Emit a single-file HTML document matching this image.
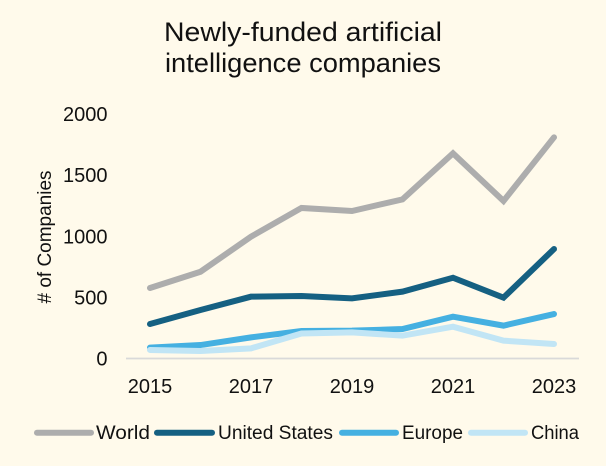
<!DOCTYPE html>
<html>
<head>
<meta charset="utf-8">
<style>
html,body{margin:0;padding:0;background:#FFFAEB;}
svg{display:block;}
text{font-family:"Liberation Sans",sans-serif;fill:#111;}
</style>
</head>
<body>
<svg id="chart" width="606" height="466" viewBox="0 0 606 466" xmlns="http://www.w3.org/2000/svg">
<rect x="0" y="0" width="606" height="466" fill="#FFFAEB"/>
<text x="303" y="41" font-size="27" text-anchor="middle" textLength="278" lengthAdjust="spacingAndGlyphs">Newly-funded artificial</text>
<text x="303" y="72" font-size="27" text-anchor="middle" textLength="276" lengthAdjust="spacingAndGlyphs">intelligence companies</text>
<text transform="translate(51,237) rotate(-90)" font-size="19" text-anchor="middle" textLength="133" lengthAdjust="spacingAndGlyphs"># of Companies</text>
<g id="y-ticks"></g>
<g id="x-ticks"></g>
<line x1="126" y1="358.5" x2="579" y2="358.5" stroke="#D9D9D9" stroke-width="1.7"/>
<g id="series"></g>
<g id="legend"></g>
</svg>
<script>
const years = [2015, 2016, 2017, 2018, 2019, 2020, 2021, 2022, 2023];
const yTickValues = [0, 500, 1000, 1500, 2000];
const xTickLabels = [2015, 2017, 2019, 2021, 2023];
const seriesNames = ["World", "United States", "Europe", "China"];
const world = [577, 710, 997, 1232, 1207, 1302, 1679, 1289, 1810];
const unitedStates = [282, 397, 506, 511, 492, 547, 661, 498, 896];
const europe = [89, 110, 173, 225, 228, 241, 342, 269, 364];
const china = [70, 61, 83, 205, 214, 187, 260, 146, 119];

const NS = "http://www.w3.org/2000/svg";
const colors = ["#ADADAD", "#156082", "#45B0E1", "#C1E5F5"];
const slugs = ["world", "united-states", "europe", "china"];
const seriesValues = [world, unitedStates, europe, china];
const xScale = function (year) { return 150 + (year - 2015) * 50.5; };
const yScale = function (value) { return 358.5 - value * 0.1222; };

const yGroup = document.getElementById("y-ticks");
yTickValues.forEach(function (value) {
  const t = document.createElementNS(NS, "text");
  
  
  t.setAttribute("x", 107.5);
  t.setAttribute("y", yScale(value) + 7);
  t.setAttribute("font-size", "20");
  t.setAttribute("text-anchor", "end");
  t.textContent = value;
  yGroup.appendChild(t);
});

const xGroup = document.getElementById("x-ticks");
xTickLabels.forEach(function (year) {
  const t = document.createElementNS(NS, "text");
  
  
  t.setAttribute("x", xScale(year));
  t.setAttribute("y", 393);
  t.setAttribute("font-size", "20");
  t.setAttribute("text-anchor", "middle");
  t.textContent = year;
  xGroup.appendChild(t);
});

const seriesGroup = document.getElementById("series");
seriesValues.forEach(function (values, i) {
  const p = document.createElementNS(NS, "polyline");
  
  
  p.setAttribute("points", values.map(function (v, j) {
    return xScale(years[j]) + "," + yScale(v);
  }).join(" "));
  p.setAttribute("fill", "none");
  p.setAttribute("stroke", colors[i]);
  p.setAttribute("stroke-width", "6");
  p.setAttribute("stroke-linecap", "round");
  p.setAttribute("stroke-linejoin", "miter");
  seriesGroup.appendChild(p);
});

const legendGroup = document.getElementById("legend");
const swatchStart = [37, 157, 342, 471];
const swatchEnd = [91, 212, 396, 525];
const labelStart = [96, 218, 402, 531];
const labelWidth = [54, 115, 61, 48];
seriesNames.forEach(function (name, i) {
  const l = document.createElementNS(NS, "line");
  
  
  l.setAttribute("x1", swatchStart[i]);
  l.setAttribute("x2", swatchEnd[i]);
  l.setAttribute("y1", 432.7);
  l.setAttribute("y2", 432.7);
  l.setAttribute("stroke", colors[i]);
  l.setAttribute("stroke-width", "6");
  l.setAttribute("stroke-linecap", "round");
  legendGroup.appendChild(l);
  const t = document.createElementNS(NS, "text");
  
  
  t.setAttribute("x", labelStart[i]);
  t.setAttribute("y", 439);
  t.setAttribute("font-size", "19");
  t.setAttribute("textLength", labelWidth[i]);
  t.setAttribute("lengthAdjust", "spacingAndGlyphs");
  t.textContent = name;
  legendGroup.appendChild(t);
});
</script>
</body>
</html>
